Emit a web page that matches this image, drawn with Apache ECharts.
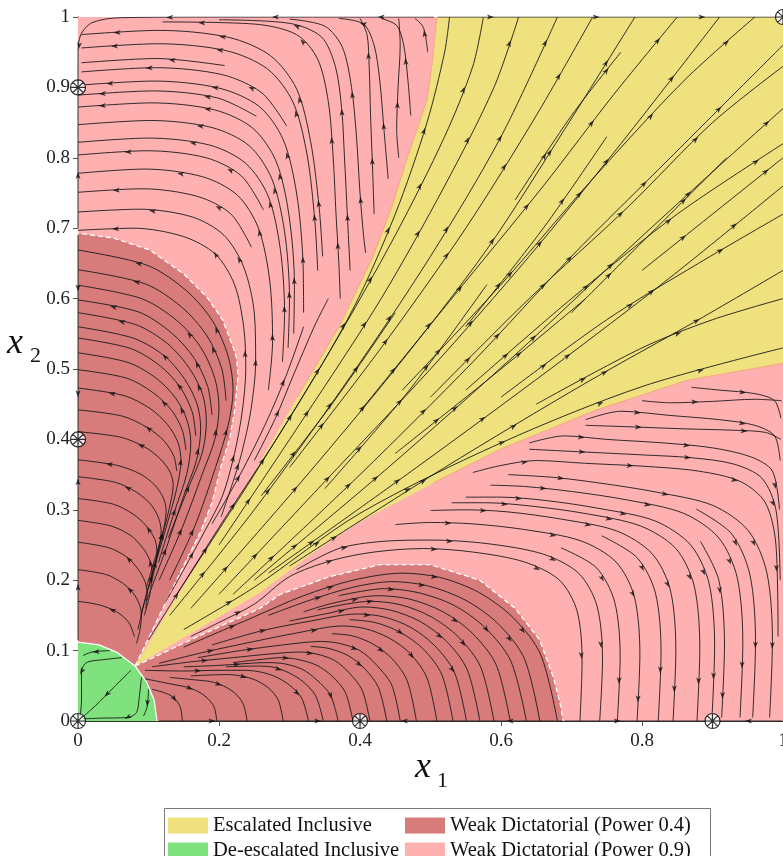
<!DOCTYPE html>
<html>
<head>
<meta charset="utf-8">
<script src="https://cdn.jsdelivr.net/npm/echarts/dist/echarts.min.js"></script>
<style>
  html, body { margin: 0; padding: 0; background: #fff; overflow: hidden; }
  #chart { width: 783px; height: 856px; }
</style>
</head>
<body>
<div id="chart"></div>
<script>
// ---------- axes ----------
const xTickLabels = ['0', '0.2', '0.4', '0.6', '0.8', '1'];
const yTickLabels = ['0', '0.1', '0.2', '0.3', '0.4', '0.5', '0.6', '0.7', '0.8', '0.9', '1'];

// ---------- legend rows ----------
const legendRows = [
  ['Escalated Inclusive', 'Weak Dictatorial (Power 0.4)'],
  ['De-escalated Inclusive', 'Weak Dictatorial (Power 0.9)']
];

// ---------- outcome regions (x1, x2) ----------
const escalatedUpperEdge = [[0.081,0.078],[0.13,0.16],[0.173,0.229],[0.241,0.338],[0.311,0.46],[0.37,0.56],[0.418,0.659],[0.445,0.73],[0.467,0.8],[0.495,0.882],[0.503,0.94],[0.509,1.0]];
const escalatedLowerEdge = [[0.081,0.078],[0.17,0.13],[0.258,0.182],[0.339,0.243],[0.396,0.281],[0.504,0.338],[0.599,0.386],[0.736,0.442],[0.864,0.484],[1.0,0.508]];
const weak04Left = [[0,0.112],[0.03,0.108],[0.056,0.097],[0.081,0.078],[0.118,0.155],[0.154,0.229],[0.173,0.267],[0.19,0.31],[0.204,0.366],[0.215,0.4],[0.222,0.44],[0.227,0.49],[0.225,0.515],[0.22,0.531],[0.205,0.57],[0.183,0.602],[0.15,0.635],[0.102,0.669],[0.05,0.686],[0,0.693]];
const weak04Bottom = [[0.112,0],[0.108,0.03],[0.097,0.056],[0.081,0.078],[0.17,0.12],[0.258,0.16],[0.287,0.18],[0.357,0.205],[0.428,0.222],[0.5,0.222],[0.57,0.2],[0.62,0.16],[0.655,0.115],[0.675,0.06],[0.685,0.02],[0.688,0]];
const deescalatedArc = [[0,0.112],[0.03,0.108],[0.056,0.097],[0.081,0.078],[0.097,0.056],[0.108,0.03],[0.112,0]];

// ---------- equilibria ----------
const equilibria = [[0,0],[0.4,0],[0.9,0],[0,0.4],[0,0.9],[1,1]];

// ---------- streamlines ----------
// upper-left basin, listed from the x2 axis / top edge outward (flow runs toward the axis)
const upperLeftFlows = [
  [[0,0.697],[0.08,0.7],[0.15,0.688],[0.195,0.663],[0.222,0.62],[0.235,0.56],[0.238,0.5],[0.233,0.44],[0.222,0.38],[0.205,0.32],[0.18,0.27],[0.15,0.215],[0.125,0.17]],
  [[0,0.723],[0.087,0.727],[0.162,0.716],[0.207,0.69],[0.235,0.645],[0.25,0.58],[0.252,0.51],[0.245,0.44],[0.232,0.38],[0.22,0.34],[0.203,0.29]],
  [[0,0.751],[0.092,0.756],[0.17,0.745],[0.217,0.72],[0.246,0.673]],
  [[0,0.778],[0.095,0.784],[0.177,0.773],[0.226,0.747],[0.256,0.7],[0.272,0.625],[0.276,0.54],[0.27,0.47]],
  [[0,0.804],[0.098,0.81],[0.182,0.8],[0.232,0.774],[0.263,0.726]],
  [[0,0.822],[0.1,0.828],[0.187,0.818],[0.238,0.792],[0.27,0.745],[0.287,0.67],[0.293,0.58],[0.29,0.51]],
  [[0,0.847],[0.103,0.853],[0.19,0.843],[0.243,0.817],[0.275,0.77],[0.293,0.695],[0.3,0.6],[0.298,0.53]],
  [[0,0.872],[0.105,0.878],[0.194,0.868],[0.248,0.842],[0.281,0.795],[0.299,0.72],[0.307,0.62],[0.306,0.55]],
  [[0,0.889],[0.107,0.895],[0.198,0.885],[0.253,0.859]],
  [[0,0.903],[0.108,0.909],[0.2,0.899],[0.257,0.873],[0.291,0.826],[0.31,0.75],[0.319,0.655],[0.32,0.58]],
  [[0.005,0.922],[0.11,0.928],[0.205,0.918],[0.261,0.892],[0.296,0.845]],
  [[0.005,0.935],[0.112,0.941],[0.208,0.931]],
  [[0.005,0.956],[0.114,0.962],[0.211,0.952],[0.269,0.926],[0.305,0.879],[0.325,0.804],[0.336,0.71],[0.34,0.64]],
  [[0.005,0.975],[0.115,0.981],[0.214,0.971],[0.273,0.945],[0.31,0.898],[0.33,0.823],[0.342,0.73],[0.347,0.66]],
  [[0.12,0.993],[0.25,0.99],[0.31,0.975],[0.34,0.94],[0.355,0.88],[0.362,0.8],[0.366,0.72],[0.37,0.65],[0.372,0.6]],
  [[0.2,0.996],[0.3,0.991],[0.345,0.972],[0.365,0.93],[0.374,0.87],[0.378,0.8],[0.382,0.72],[0.386,0.64]],
  [[0.3,0.997],[0.35,0.987],[0.375,0.957],[0.388,0.9],[0.395,0.83],[0.4,0.75],[0.405,0.69],[0.408,0.665]],
  [[0.4,0.998],[0.41,0.975],[0.413,0.93],[0.415,0.86],[0.418,0.78],[0.42,0.72]],
  [[0.37,0.998],[0.405,0.99],[0.42,0.96],[0.428,0.91],[0.434,0.84],[0.44,0.77]],
  [[0.455,0.998],[0.457,0.96],[0.454,0.9],[0.452,0.84],[0.455,0.8]],
  [[0.43,0.998],[0.452,0.988],[0.462,0.96],[0.468,0.91],[0.472,0.86]],
  [[0.478,0.998],[0.49,0.985],[0.496,0.95]]
];

// narrow band beside the escalated wedge, in flow order (upward)
const upperBandFlows = [
  [[0.19,0.28],[0.23,0.35],[0.265,0.42],[0.295,0.49],[0.32,0.56]],
  [[0.25,0.37],[0.28,0.43],[0.305,0.49],[0.335,0.56],[0.355,0.6]]
];

// lower-right basin, listed from the x1 axis / right edge outward (flow runs toward the axis)
const lowerRightFlows = [
  [[0.712,0],[0.715,0.084],[0.708,0.156],[0.683,0.2],[0.633,0.226],[0.56,0.24],[0.49,0.245],[0.42,0.24],[0.36,0.228],[0.3,0.205],[0.25,0.166],[0.2,0.14],[0.16,0.12]],
  [[0.74,0],[0.744,0.088],[0.736,0.164],[0.71,0.21],[0.66,0.237],[0.58,0.252],[0.5,0.257],[0.43,0.255],[0.37,0.245],[0.31,0.215]],
  [[0.765,0],[0.769,0.092],[0.761,0.17],[0.735,0.218],[0.685,0.246]],
  [[0.793,0],[0.797,0.095],[0.789,0.177],[0.763,0.226],[0.713,0.256],[0.633,0.272],[0.56,0.28],[0.5,0.282],[0.45,0.279]],
  [[0.823,0],[0.827,0.098],[0.819,0.182],[0.793,0.232],[0.743,0.263]],
  [[0.844,0],[0.848,0.1],[0.84,0.187],[0.814,0.238],[0.764,0.27],[0.684,0.287],[0.61,0.297],[0.55,0.3],[0.5,0.299]],
  [[0.878,0],[0.882,0.103],[0.874,0.192],[0.848,0.245],[0.798,0.277],[0.718,0.295],[0.645,0.305],[0.58,0.31],[0.53,0.31]],
  [[0.899,0],[0.903,0.106],[0.895,0.196],[0.869,0.25],[0.819,0.284],[0.739,0.302],[0.665,0.313],[0.6,0.318],[0.55,0.318]],
  [[0.913,0.005],[0.917,0.108],[0.909,0.2],[0.883,0.255]],
  [[0.939,0.005],[0.943,0.11],[0.935,0.204],[0.909,0.26],[0.859,0.295],[0.779,0.314],[0.7,0.326],[0.635,0.333],[0.585,0.335]],
  [[0.957,0.005],[0.961,0.112],[0.953,0.208],[0.927,0.266],[0.877,0.301]],
  [[0.981,0.005],[0.985,0.114],[0.977,0.211],[0.951,0.27],[0.901,0.306],[0.821,0.325],[0.74,0.338],[0.675,0.346],[0.61,0.35]],
  [[0.993,0.12],[0.99,0.25],[0.975,0.31],[0.94,0.34],[0.88,0.355],[0.8,0.362],[0.72,0.366],[0.65,0.37],[0.6,0.363],[0.56,0.353]],
  [[0.996,0.2],[0.99,0.3],[0.97,0.345],[0.93,0.365],[0.87,0.374],[0.8,0.378],[0.72,0.382],[0.64,0.386]],
  [[0.995,0.3],[0.985,0.355],[0.955,0.375],[0.9,0.388],[0.83,0.395],[0.75,0.4],[0.69,0.405],[0.64,0.395]],
  [[0.997,0.4],[0.975,0.41],[0.93,0.413],[0.86,0.415],[0.78,0.418],[0.72,0.42]],
  [[0.996,0.37],[0.988,0.405],[0.96,0.42],[0.91,0.428],[0.84,0.434],[0.77,0.44],[0.72,0.428]],
  [[0.998,0.455],[0.96,0.457],[0.9,0.454],[0.84,0.452],[0.8,0.455]],
  [[0.997,0.43],[0.988,0.455],[0.96,0.465],[0.91,0.47],[0.87,0.474]]
];

// left weak-dictatorial basin, in flow order (from the saddle up to the x2 axis)
const leftBasinFlows = [
  [[0.13,0.2],[0.165,0.275],[0.195,0.36],[0.213,0.42],[0.22,0.47],[0.213,0.518],[0.191,0.568],[0.154,0.611],[0.099,0.647],[0,0.669]],
  [[0.21,0.455],[0.204,0.5],[0.183,0.547],[0.147,0.588],[0.095,0.621],[0,0.641]],
  [[0.115,0.2],[0.148,0.275],[0.176,0.35],[0.194,0.4],[0.2,0.445],[0.194,0.487],[0.174,0.531],[0.14,0.569],[0.09,0.6],[0,0.619]],
  [[0.19,0.435],[0.184,0.475],[0.165,0.515],[0.133,0.551],[0.086,0.581],[0,0.598]],
  [[0.128,0.26],[0.156,0.33],[0.176,0.38],[0.182,0.425],[0.177,0.463],[0.158,0.501],[0.127,0.536],[0.082,0.563],[0,0.58]],
  [[0.097,0.17],[0.125,0.245],[0.15,0.32],[0.168,0.37],[0.174,0.415],[0.169,0.45],[0.151,0.486],[0.122,0.519],[0.078,0.544],[0,0.56]],
  [[0.167,0.405],[0.162,0.439],[0.145,0.474],[0.117,0.504],[0.075,0.529],[0,0.544]],
  [[0.114,0.225],[0.136,0.295],[0.154,0.35],[0.16,0.395],[0.155,0.426],[0.139,0.458],[0.112,0.486],[0.072,0.509],[0,0.523]],
  [[0.153,0.385],[0.148,0.413],[0.133,0.441],[0.107,0.466],[0.069,0.487],[0,0.499]],
  [[0.089,0.15],[0.106,0.21],[0.125,0.275],[0.14,0.33],[0.146,0.37],[0.142,0.395],[0.127,0.421],[0.102,0.444],[0.066,0.462],[0,0.473]],
  [[0.14,0.355],[0.136,0.376],[0.122,0.398],[0.098,0.417],[0.063,0.433],[0,0.442]],
  [[0.1,0.19],[0.116,0.25],[0.129,0.3],[0.135,0.335],[0.131,0.353],[0.117,0.372],[0.095,0.389],[0.061,0.403],[0,0.411]],
  [[0.097,0.19],[0.112,0.24],[0.122,0.275],[0.125,0.3],[0.121,0.317],[0.109,0.335],[0.088,0.351],[0.056,0.363],[0,0.371]],
  [[0.085,0.13],[0.097,0.18],[0.11,0.225],[0.118,0.27],[0.114,0.289],[0.103,0.308],[0.083,0.325],[0.053,0.339],[0,0.347]],
  [[0.105,0.2],[0.112,0.24],[0.109,0.258],[0.097,0.277],[0.078,0.294],[0.05,0.308],[0,0.316]],
  [[0.094,0.15],[0.102,0.18],[0.105,0.21],[0.102,0.228],[0.091,0.247],[0.074,0.264],[0.047,0.277],[0,0.285]],
  [[0.096,0.16],[0.098,0.18],[0.095,0.198],[0.085,0.216],[0.069,0.233],[0.044,0.246],[0,0.254]],
  [[0.083,0.11],[0.088,0.13],[0.09,0.15],[0.087,0.166],[0.078,0.182],[0.063,0.196],[0.04,0.208],[0,0.215]],
  [[0.08,0.12],[0.072,0.14],[0.055,0.155],[0.03,0.165],[0,0.17]]
];

// bottom weak-dictatorial basin, in flow order (from the saddle out to the x1 axis)
const bottomBasinFlows = [
  [[0.15,0.105],[0.25,0.148],[0.32,0.178],[0.39,0.2],[0.46,0.21],[0.513,0.204],[0.568,0.183],[0.617,0.147],[0.656,0.095],[0.68,0]],
  [[0.27,0.15],[0.33,0.172],[0.39,0.19],[0.445,0.198],[0.496,0.192],[0.549,0.172],[0.595,0.139],[0.633,0.089],[0.655,0]],
  [[0.37,0.178],[0.435,0.188],[0.484,0.182],[0.534,0.164],[0.578,0.132],[0.614,0.085],[0.636,0]],
  [[0.32,0.155],[0.36,0.167],[0.425,0.178],[0.471,0.173],[0.518,0.155],[0.559,0.125],[0.593,0.08],[0.613,0]],
  [[0.34,0.158],[0.415,0.17],[0.458,0.165],[0.501,0.148],[0.54,0.119],[0.571,0.077],[0.59,0]],
  [[0.3,0.142],[0.35,0.152],[0.405,0.162],[0.445,0.157],[0.486,0.141],[0.523,0.113],[0.552,0.073],[0.57,0]],
  [[0.19,0.108],[0.26,0.128],[0.33,0.142],[0.395,0.152],[0.433,0.148],[0.472,0.133],[0.506,0.107],[0.534,0.069],[0.551,0]],
  [[0.385,0.144],[0.421,0.14],[0.457,0.126],[0.49,0.102],[0.516,0.066],[0.532,0]],
  [[0.115,0.082],[0.18,0.098],[0.25,0.113],[0.31,0.125],[0.375,0.135],[0.408,0.131],[0.441,0.118],[0.471,0.096],[0.495,0.061],[0.509,0]],
  [[0.36,0.124],[0.389,0.121],[0.419,0.109],[0.446,0.088],[0.467,0.057],[0.48,0]],
  [[0.17,0.09],[0.23,0.1],[0.29,0.108],[0.345,0.113],[0.372,0.11],[0.4,0.1],[0.423,0.08],[0.445,0.051],[0.457,0]],
  [[0.33,0.106],[0.356,0.103],[0.383,0.093],[0.406,0.075],[0.426,0.048],[0.438,0]],
  [[0.105,0.077],[0.16,0.084],[0.22,0.09],[0.27,0.095],[0.315,0.098],[0.339,0.095],[0.364,0.086],[0.384,0.069],[0.403,0.044],[0.414,0]],
  [[0.22,0.083],[0.255,0.087],[0.29,0.09],[0.314,0.087],[0.339,0.079],[0.36,0.064],[0.379,0.041],[0.39,0]],
  [[0.15,0.077],[0.2,0.079],[0.27,0.083],[0.294,0.081],[0.319,0.073],[0.339,0.058],[0.358,0.037],[0.369,0]],
  [[0.21,0.077],[0.25,0.078],[0.274,0.077],[0.298,0.069],[0.319,0.056],[0.337,0.036],[0.348,0]],
  [[0.095,0.072],[0.15,0.071],[0.2,0.072],[0.235,0.072],[0.257,0.07],[0.28,0.063],[0.3,0.051],[0.317,0.033],[0.327,0]],
  [[0.16,0.064],[0.21,0.066],[0.231,0.064],[0.252,0.058],[0.27,0.047],[0.284,0.03],[0.291,0]],
  [[0.13,0.062],[0.17,0.058],[0.188,0.056],[0.206,0.05],[0.222,0.04],[0.234,0.025],[0.24,0]],
  [[0.095,0.06],[0.12,0.055],[0.14,0.051],[0.155,0.048],[0.17,0.042],[0.183,0.033],[0.193,0.02],[0.197,0]],
  [[0.105,0.045],[0.12,0.041],[0.135,0.034],[0.145,0.02],[0.148,0]]
];

// escalated wedge, in flow order (away from the saddle)
const escalatedFlows = [
  [[0.1,0.115],[0.2,0.275],[0.3,0.43],[0.39,0.585],[0.45,0.72],[0.495,0.85],[0.52,0.95],[0.527,1]],
  [[0.14,0.18],[0.25,0.35],[0.36,0.53],[0.45,0.69],[0.52,0.83],[0.56,0.93],[0.575,1]],
  [[0.2,0.25],[0.32,0.43],[0.43,0.6],[0.52,0.76],[0.59,0.9],[0.625,1]],
  [[0.13,0.15],[0.25,0.3],[0.38,0.48],[0.5,0.66],[0.6,0.83],[0.68,1]],
  [[0.3,0.36],[0.43,0.53],[0.55,0.7],[0.65,0.86],[0.73,1]],
  [[0.16,0.16],[0.3,0.32],[0.45,0.5],[0.58,0.67],[0.69,0.84],[0.79,1]],
  [[0.4,0.44],[0.53,0.6],[0.66,0.76],[0.76,0.89],[0.85,1]],
  [[0.2,0.18],[0.35,0.34],[0.5,0.5],[0.64,0.66],[0.77,0.82],[0.91,1]],
  [[0.46,0.47],[0.6,0.62],[0.73,0.77],[0.86,0.91],[0.96,1]],
  [[0.22,0.18],[0.4,0.35],[0.56,0.51],[0.7,0.66],[0.84,0.8],[1,0.96]],
  [[0.5,0.46],[0.64,0.6],[0.78,0.73],[0.9,0.85],[1,0.93]],
  [[0.25,0.2],[0.44,0.36],[0.62,0.52],[0.78,0.67],[0.9,0.78],[1,0.87]],
  [[0.55,0.47],[0.7,0.6],[0.85,0.72],[1,0.82]],
  [[0.27,0.21],[0.48,0.36],[0.67,0.5],[0.84,0.63],[1,0.76]],
  [[0.6,0.46],[0.75,0.57],[0.88,0.65],[1,0.72]],
  [[0.3,0.22],[0.52,0.36],[0.72,0.48],[0.88,0.57],[1,0.64]],
  [[0.65,0.45],[0.8,0.53],[0.9,0.57],[1,0.6]],
  [[0.15,0.13],[0.25,0.19],[0.4,0.295],[0.6,0.395],[0.8,0.475],[1,0.53]],
  [[0.26,0.32],[0.36,0.45],[0.45,0.58]],
  [[0.35,0.33],[0.47,0.47],[0.58,0.62]],
  [[0.55,0.56],[0.66,0.7],[0.75,0.83]],
  [[0.7,0.58],[0.82,0.7],[0.92,0.8]],
  [[0.45,0.38],[0.6,0.5],[0.72,0.6]],
  [[0.62,0.74],[0.7,0.86],[0.77,0.95]],
  [[0.8,0.64],[0.9,0.72],[1,0.8]]
];

// de-escalated corner, in flow order (toward the origin)
const deescalatedFlows = [
  [[0.075,0.072],[0.05,0.047],[0.025,0.022],[0.006,0.005]],
  [[0.062,0.09],[0.035,0.087],[0.012,0.083],[0.005,0.07],[0.005,0.03],[0.003,0.006]],
  [[0.09,0.062],[0.087,0.035],[0.083,0.012],[0.07,0.005],[0.03,0.004],[0.006,0.003]],
  [[0.045,0.1],[0.02,0.098],[0.007,0.093]],
  [[0.1,0.045],[0.098,0.02],[0.093,0.007]]
];

// flows along the edges of the square, in flow order
const edgeFlows = [
  [[0.505,1],[0.35,1],[0.2,1],[0.06,0.999],[0.02,0.992],[0.004,0.975],[0,0.95],[0,0.905]],
  [[0.51,1],[0.75,1],[0.997,1]],
  [[0,0.115],[0,0.26],[0,0.398]],
  [[0,0.69],[0,0.55],[0,0.402]],
  [[0,0.7],[0,0.8],[0,0.897]],
  [[0.115,0],[0.26,0],[0.398,0]],
  [[0.688,0],[0.55,0],[0.402,0]],
  [[0.69,0],[0.8,0],[0.897,0]],
  [[0.999,0],[0.95,0],[0.903,0]]
];

// ---------- styling ----------
const COLORS = {
  escalated: '#f0e17f',
  deescalated: '#80e27e',
  weak04: '#d87b7b',
  weak09: '#ffb0b0'
};
const SERIF = '"Liberation Serif", "DejaVu Serif", serif';
const ARROW_PATH = 'path://M0,0L5,12L0,9L-5,12Z';
const EQ_PATH = 'path://M10,0A10,10,0,1,1,-10,0A10,10,0,1,1,10,0ZM-10,0L10,0M0,-10L0,10M-7.07,-7.07L7.07,7.07M-7.07,7.07L7.07,-7.07';

const chart = echarts.init(document.getElementById('chart'), null, { renderer: 'canvas' });

function regionSeries(name, color, polygons, z) {
  return {
    type: 'custom',
    name: name,
    z: z,
    silent: true,
    clip: true,
    itemStyle: { color: color },
    data: polygons.map(p => p[0]),
    renderItem: function (params, api) {
      const poly = polygons[params.dataIndex];
      return {
        type: 'polygon',
        shape: { points: poly.map(p => api.coord(p)) },
        style: { fill: color, stroke: null }
      };
    }
  };
}

// arrowheads placed along a polyline at regular arc-length steps
function arrowheads(line, spacing) {
  const lens = [];
  let total = 0;
  for (let i = 1; i < line.length; i++) {
    const l = Math.hypot(line[i][0] - line[i - 1][0], line[i][1] - line[i - 1][1]);
    lens.push(l);
    total += l;
  }
  const marks = [];
  if (total < spacing * 1.1) marks.push(total / 2);
  else for (let s = spacing * 0.5; s < total - 0.03; s += spacing) marks.push(s);
  const out = [];
  marks.forEach(s => {
    let acc = 0;
    for (let i = 0; i < lens.length; i++) {
      if (acc + lens[i] >= s && lens[i] > 0) {
        const t = (s - acc) / lens[i];
        const a = line[i], b = line[i + 1];
        const ang = Math.atan2(b[1] - a[1], b[0] - a[0]) * 180 / Math.PI;
        out.push({ value: [a[0] + t * (b[0] - a[0]), a[1] + t * (b[1] - a[1])], symbolRotate: ang - 90 });
        break;
      }
      acc += lens[i];
    }
  });
  return out;
}

const flowGroups = [
  { lines: upperLeftFlows, reversed: true },
  { lines: upperBandFlows, reversed: false },
  { lines: lowerRightFlows, reversed: true },
  { lines: leftBasinFlows, reversed: false },
  { lines: bottomBasinFlows, reversed: false },
  { lines: escalatedFlows, reversed: false },
  { lines: deescalatedFlows, reversed: false },
  { lines: edgeFlows, reversed: false }
];

const streamSeries = [];
let arrowData = [];
flowGroups.forEach(g => {
  g.lines.forEach(line => {
    const ordered = g.reversed ? line.slice().reverse() : line;
    streamSeries.push({
      type: 'line',
      data: ordered,
      smooth: 0.3,
      symbol: 'none',
      silent: true,
      z: 5,
      clip: true,
      animation: false,
      lineStyle: { color: '#1a1a1a', width: 0.9 }
    });
    arrowData = arrowData.concat(arrowheads(ordered, 0.15));
  });
});

const escalatedPolygon = escalatedUpperEdge
  .concat([[1, 1], [1, 0.508]])
  .concat(escalatedLowerEdge.slice(0, -1).reverse());
const weak04BottomPolygon = weak04Bottom.concat([[0.112, 0]]);
const deescalatedPolygon = [[0, 0]].concat(deescalatedArc);

function boundaryLine(points, color, width, type, z) {
  return {
    type: 'line', data: points, symbol: 'none', silent: true, z: z, animation: false,
    lineStyle: { color: color, width: width, type: type }
  };
}

// legend: two rows, second column aligned at a fixed x position
const LEGEND_FONT_SIZE = 20.5;
const LEGEND_LEFT = 168, LEGEND_COL2 = 405, LEGEND_ICON_W = 40;
const measureCtx = document.createElement('canvas').getContext('2d');
measureCtx.font = LEGEND_FONT_SIZE + 'px ' + SERIF;
function legendRow(top, names) {
  const firstTextW = measureCtx.measureText(names[0]).width;
  const gap = Math.max(4, LEGEND_COL2 - (LEGEND_LEFT + LEGEND_ICON_W + 5 + firstTextW));
  return {
    left: LEGEND_LEFT, top: top, orient: 'horizontal', padding: 0,
    icon: 'rect', itemWidth: LEGEND_ICON_W, itemHeight: 16, itemGap: gap,
    selectedMode: false,
    textStyle: { fontFamily: SERIF, fontSize: LEGEND_FONT_SIZE, color: '#111', lineHeight: 16 },
    data: names
  };
}

const option = {
  animation: false,
  backgroundColor: '#ffffff',
  grid: { left: 78, right: 0, top: 17, bottom: 135, containLabel: false, outerBoundsMode: 'none' },
  xAxis: [
    {
      type: 'value', min: 0, max: 1, interval: 0.2, position: 'bottom',
      axisLine: { show: true, lineStyle: { color: '#8a8a8a', width: 1 } },
      axisTick: { show: true, inside: true, length: 5, lineStyle: { color: '#555' } },
      splitLine: { show: false },
      axisLabel: {
        margin: 11, fontFamily: SERIF, fontSize: 19, color: '#222',
        formatter: v => xTickLabels[Math.round(v / 0.2)]
      }
    },
    {
      type: 'value', min: 0, max: 1, interval: 0.2, position: 'top',
      axisLine: { show: true, lineStyle: { color: '#333', width: 1 } },
      axisTick: { show: true, inside: true, length: 5, lineStyle: { color: '#555' } },
      splitLine: { show: false }, axisLabel: { show: false }
    }
  ],
  yAxis: [
    {
      type: 'value', min: 0, max: 1, interval: 0.1, position: 'left',
      axisLine: { show: true, lineStyle: { color: '#8a8a8a', width: 1 } },
      axisTick: { show: true, inside: true, length: 5, lineStyle: { color: '#555' } },
      splitLine: { show: false },
      axisLabel: {
        margin: 8, fontFamily: SERIF, fontSize: 19, color: '#222',
        formatter: v => yTickLabels[Math.round(v / 0.1)]
      }
    },
    {
      type: 'value', min: 0, max: 1, interval: 0.1, position: 'right',
      axisLine: { show: true, lineStyle: { color: '#333', width: 1 } },
      axisTick: { show: true, inside: true, length: 5, lineStyle: { color: '#555' } },
      splitLine: { show: false }, axisLabel: { show: false }
    }
  ],
  legend: [
    legendRow(815, legendRows[0]),
    legendRow(840, legendRows[1])
  ],
  graphic: [
    { type: 'rect', left: 164, top: 808, z: -1, shape: { width: 546, height: 70 }, style: { fill: '#fff', stroke: '#7a7a7a', lineWidth: 1 } },
    { type: 'text', left: 415, top: 750, z: 10, style: { text: 'x', font: 'italic 36px ' + SERIF, fill: '#111' } },
    { type: 'text', left: 437, top: 770, z: 10, style: { text: '1', font: '22px ' + SERIF, fill: '#111' } },
    { type: 'text', left: 7, top: 326, z: 10, style: { text: 'x', font: 'italic 36px ' + SERIF, fill: '#111' } },
    { type: 'text', left: 30, top: 345, z: 10, style: { text: '2', font: '22px ' + SERIF, fill: '#111' } }
  ],
  series: [
    regionSeries('Weak Dictatorial (Power 0.9)', COLORS.weak09, [[[0, 0], [1, 0], [1, 1], [0, 1]]], 1),
    regionSeries('Escalated Inclusive', COLORS.escalated, [escalatedPolygon], 2),
    regionSeries('Weak Dictatorial (Power 0.4)', COLORS.weak04, [weak04Left, weak04BottomPolygon], 3),
    regionSeries('De-escalated Inclusive', COLORS.deescalated, [deescalatedPolygon], 3),
    boundaryLine(escalatedUpperEdge.slice(4), '#f4ab86', 1.2, 'solid', 4),
    boundaryLine(escalatedLowerEdge.slice(5), '#f4ab86', 1.2, 'solid', 4),
    boundaryLine(weak04Left.slice(3), '#ffffff', 1.3, [5, 3], 4),
    boundaryLine(weak04Bottom.slice(3), '#ffffff', 1.3, [5, 3], 4),
    boundaryLine(deescalatedArc, '#ffffff', 1.3, 'solid', 4)
  ].concat(streamSeries).concat([
    {
      type: 'scatter', data: arrowData, symbol: ARROW_PATH, symbolSize: [5, 7],
      silent: true, z: 6, animation: false, clip: true,
      itemStyle: { color: '#111' }
    },
    {
      type: 'scatter', data: equilibria, symbol: EQ_PATH, symbolSize: 15,
      silent: true, z: 7, animation: false, clip: false,
      itemStyle: { color: '#ffffff', borderColor: '#000', borderWidth: 1.2 }
    }
  ])
};

chart.setOption(option);
</script>
</body>
</html>
